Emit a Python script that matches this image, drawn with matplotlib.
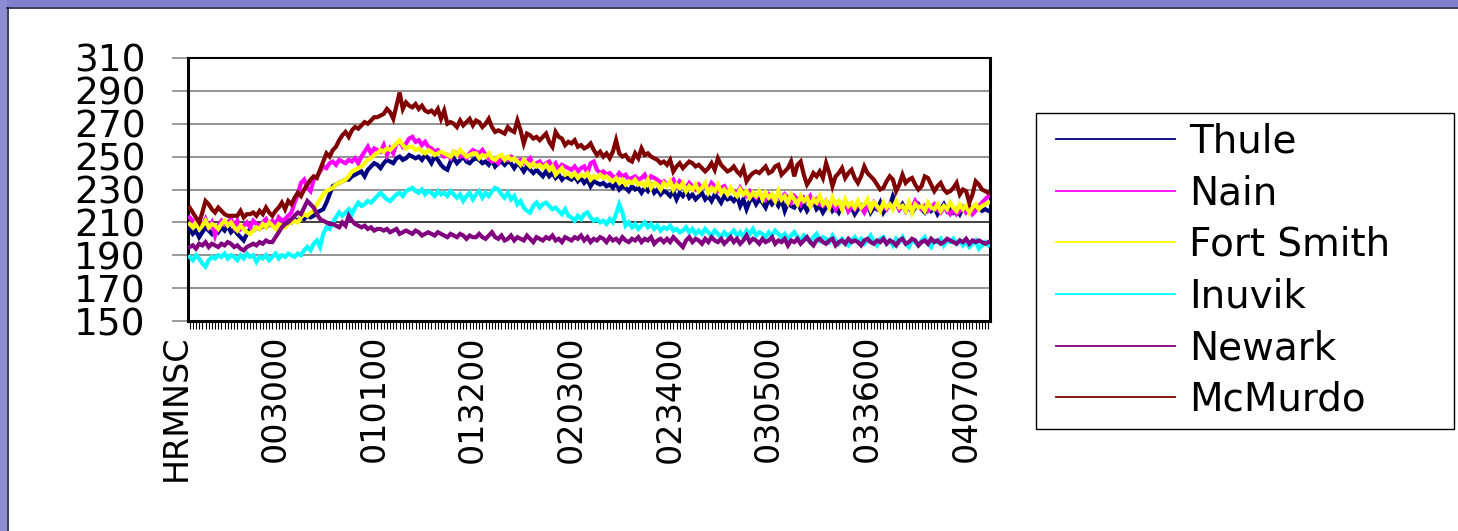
import matplotlib
matplotlib.use("Agg")
import matplotlib.pyplot as plt
import matplotlib.transforms as mtransforms
from matplotlib.lines import Line2D
from matplotlib.patches import Rectangle
from matplotlib.legend_handler import HandlerLine2D
import numpy as np

plt.rcParams['font.family'] = ['DejaVu Sans']

# ---------------- data ----------------
series_names = ["Thule", "Nain", "Fort Smith", "Inuvik", "Newark", "McMurdo"]
series_colors = ["#000080", "#FF00FF", "#FFFF00", "#00FFFF", "#800080", "#800000"]

tick_labels = ["HRMNSC", "003000", "010100", "013200", "020300",
               "023400", "030500", "033600", "040700"]
tick_step = 31

thule = [
    206, 203, 205, 201, 204, 207, 205, 203, 206, 204,
    207, 205, 208, 204, 206, 203, 201, 199, 203, 206,
    205, 207, 206, 208, 207, 209, 208, 210, 209, 210,
    209, 211, 210, 212, 211, 213, 212, 214, 213, 214,
    216, 217, 218, 222, 227, 232, 233, 234, 235, 236,
    236, 238, 239, 240, 241, 238, 242, 244, 246, 245,
    243, 246, 248, 247, 246, 249, 250, 248, 249, 251,
    250, 249, 250, 248, 251, 249, 246, 250, 248, 245,
    243, 242, 247, 249, 246, 248, 250, 247, 246, 248,
    249, 248, 246, 247, 245, 248, 244, 246, 247, 245,
    247, 246, 243, 246, 244, 241, 244, 242, 240, 242,
    240, 238, 241, 238, 240, 237, 239, 236, 238, 237,
    236, 238, 235, 237, 234, 236, 232, 235, 234, 233,
    234, 232, 233, 231, 234, 230, 232, 231, 229, 232,
    230, 231, 228, 231, 229, 232, 228, 230, 227, 229,
    228, 226, 229, 224, 228, 226, 229, 225, 227, 224,
    226, 228, 224, 226, 223, 227, 225, 222, 226, 224,
    225, 223, 226, 220, 224, 218, 223, 225, 221, 224,
    222, 219, 224, 221, 223, 220, 224, 217, 222, 220,
    219, 222, 218, 221, 217, 220, 223, 218, 220, 216,
    219, 221, 217, 219, 216, 220, 222, 217, 219, 215,
    218, 220, 217, 221, 216, 219, 218, 222, 216, 219,
    220, 226, 222, 218, 221, 217, 220, 216, 219, 221,
    218, 216, 220, 217, 219, 215, 218, 221, 217, 219,
    216, 218, 215, 219, 217, 220, 216, 218, 219, 217,
    218, 217,
]

nain = [
    213, 211, 209, 210, 208, 212, 207, 210, 202, 208,
    211, 209, 210, 212, 207, 211, 206, 208, 210, 207,
    211, 209, 208, 210, 212, 209, 211, 208, 213, 211,
    212, 214, 216, 222, 227, 234, 236, 231, 229, 236,
    238, 241, 244, 243, 246, 247, 245, 248, 247, 246,
    248, 247, 249, 246, 250, 253, 256, 252, 255, 254,
    253, 257, 251, 255, 252, 258, 259, 256, 258, 261,
    262, 259, 260, 257, 259, 256, 255, 253, 254, 252,
    250, 251, 249, 253, 252, 250, 251, 249, 252, 254,
    253, 252, 254, 251, 249, 247, 248, 246, 250, 249,
    248, 250, 249, 247, 248, 246, 247, 249, 245, 246,
    247, 244, 246, 247, 244, 246, 242, 245, 244, 243,
    242, 244, 241, 243, 244, 240, 246, 247, 242, 240,
    241, 239, 240, 238, 237, 240, 238, 239, 236, 237,
    238, 236, 237, 239, 235, 238, 237, 236, 234, 235,
    233, 234, 236, 232, 235, 233, 231, 234, 232, 230,
    233, 231, 232, 230, 234, 232, 229, 231, 232, 228,
    230, 229, 227, 231, 228, 226, 229, 227, 225, 228,
    226, 224, 227, 225, 223, 226, 224, 227, 225, 222,
    226, 224, 221, 225, 223, 226, 222, 224, 221, 220,
    223, 220, 222, 218, 221, 219, 223, 217, 220, 218,
    221, 219, 216, 220, 218, 222, 219, 217, 220, 218,
    221, 219, 222, 218, 220, 217, 221, 219, 223, 220,
    218, 220, 217, 219, 221, 218, 216, 219, 217, 215,
    218, 215, 217, 219, 216, 218, 215, 217, 220, 222,
    224, 226,
]

fort_smith = [
    209, 207, 210, 206, 208, 211, 207, 209, 208, 206,
    209, 211, 208, 210, 207, 205, 208, 206, 204, 203,
    205, 207, 206, 209, 207, 210, 208, 206, 209, 208,
    207, 209, 210, 211, 210, 213, 215, 214, 216, 217,
    221, 224, 227, 229, 230, 231, 233, 234, 235, 236,
    238, 241, 242, 243, 244, 246, 248, 249, 251, 252,
    254, 253, 255, 254, 256, 258, 260, 257, 255, 256,
    256, 254, 255, 253, 252, 254, 253, 251, 252, 253,
    252, 251, 250, 253, 251, 254, 252, 250, 251, 252,
    252, 249, 251, 250, 252, 249, 248, 250, 251, 248,
    250, 248, 249, 247, 245, 248, 246, 244, 246, 244,
    245, 243, 245, 242, 244, 239, 241, 243, 239, 240,
    238, 240, 237, 239, 238, 240, 236, 238, 237, 239,
    237, 238, 236, 235, 237, 234, 236, 233, 235, 234,
    236, 233, 234, 232, 236, 231, 234, 233, 230, 234,
    232, 235, 230, 233, 231, 234, 229, 232, 230, 233,
    229, 231, 234, 228, 231, 229, 233, 228, 230, 227,
    231, 228, 226, 230, 227, 229, 225, 228, 226, 229,
    224, 228, 225, 227, 223, 229, 224, 226, 222, 227,
    224, 221, 226, 223, 225, 220, 224, 222, 226, 221,
    223, 219, 225, 221, 223, 218, 224, 220, 222, 219,
    223, 219, 221, 224, 218, 222, 220, 217, 222, 219,
    221, 218, 223, 219, 220, 217, 222, 216, 221, 219,
    220, 217, 222, 219, 218, 221, 217, 220, 218, 222,
    219, 217, 221, 218, 220, 216, 219, 221, 218, 220,
    221, 222,
]

inuvik = [
    189, 187, 190, 188, 185, 183, 187, 189, 188, 190,
    189, 191, 188, 190, 189, 187, 190, 188, 191, 189,
    190, 186, 189, 188, 190, 187, 189, 191, 188, 190,
    189, 191, 190, 189, 191, 190, 193, 195, 193, 197,
    199, 195, 203, 207, 206, 210, 213, 216, 214, 216,
    218, 215, 219, 222, 220, 221, 223, 222, 224, 226,
    228, 226, 224, 223, 225, 227, 228, 226, 229, 230,
    231, 229, 228, 230, 227, 229, 228, 226, 229, 227,
    228, 226, 229, 227, 225, 227, 223, 226, 228, 224,
    227, 229, 225, 228, 226, 229, 231, 230, 227, 225,
    228, 224, 226, 221, 223, 219, 217, 216, 220, 222,
    219, 221, 222, 220, 218, 219, 217, 215, 218, 214,
    213, 211, 214, 212, 215, 216, 213, 211, 212, 210,
    211, 209, 212, 210, 215, 221, 216, 208, 210, 207,
    209, 206, 208, 210, 207, 209, 206, 208, 205, 207,
    206, 208, 205, 206, 204, 205, 207, 204, 206, 203,
    205, 203, 206, 204, 202, 205, 203, 201, 204, 202,
    203, 205, 202, 204, 201, 205, 203, 206, 202, 204,
    203, 201, 204, 202, 205, 203, 201, 203, 200, 202,
    204, 201, 199, 202, 200, 198, 201, 203, 199, 201,
    200, 198, 202, 199, 197, 200, 198, 196, 199, 201,
    198, 200, 197, 199, 202, 198, 196, 200, 201, 197,
    199, 196, 200, 198, 201, 197, 195, 199, 198, 196,
    199, 201, 197, 195, 199, 198, 200, 196, 199, 198,
    200, 197, 199, 196, 198, 195, 197, 199, 194, 196,
    198, 196,
]

newark = [
    195, 196, 194, 197, 196, 198, 195, 197, 196, 195,
    197, 196, 198, 197, 195, 196, 194, 193, 195, 196,
    197, 196, 198, 197, 199, 198, 198, 201, 204, 207,
    209, 210, 212, 214, 216, 215, 219, 223, 221, 219,
    215, 212, 211, 210, 209, 209, 208, 207, 210, 208,
    214, 211, 209, 208, 207, 208, 206, 207, 205, 206,
    206, 205, 206, 204, 205, 206, 203, 204, 205, 204,
    203, 205, 204, 202, 203, 204, 203, 202, 204, 203,
    202, 201, 203, 202, 201, 203, 202, 200, 202, 201,
    201, 203, 201, 200, 202, 204, 201, 200, 202, 199,
    200, 202, 199, 201, 200, 199, 202, 200, 198, 201,
    200, 199, 201, 200, 202, 199, 200, 198, 201, 200,
    199, 201, 200, 202, 199, 201, 198, 200, 199, 201,
    200, 198, 201, 199, 200, 198, 201, 199, 198, 200,
    199, 201, 198, 200, 199, 201, 197, 199, 200, 198,
    200, 198, 201, 199, 197, 195, 199, 201, 198, 200,
    199, 197, 200, 198, 201, 199, 198, 200, 197, 199,
    201, 198, 200, 197, 199, 202, 198, 200, 199, 197,
    200, 198, 199, 201, 197, 199, 198, 200, 196, 199,
    198, 200, 197, 199, 201, 198, 196, 199, 200, 198,
    197, 199, 200, 196, 198, 199, 197, 200, 198, 199,
    198, 196, 199, 200, 198, 197, 199, 198, 200, 197,
    199, 198, 196, 199, 200, 197, 198, 200, 199, 196,
    198, 199, 197, 200, 198, 199, 197, 198, 200, 199,
    198, 197, 199, 198, 200, 197, 199, 198, 199, 198,
    197, 198,
]

mcmurdo = [
    219, 216, 213, 210, 216, 223, 221, 218, 216, 219,
    217, 215, 214, 214, 214, 214, 217, 213, 215, 215,
    216, 214, 217, 215, 219, 216, 214, 217, 219, 222,
    218, 223, 221, 225, 228, 226, 230, 233, 236, 238,
    237, 242, 247, 252, 250, 254, 256, 260, 263, 265,
    262, 266, 268, 267, 269, 271, 270, 272, 274, 274,
    275, 276, 279, 277, 273, 281, 289, 279, 283, 281,
    280, 282, 279, 281, 278, 277, 278, 276, 279, 273,
    278, 270, 271, 270, 268, 272, 269, 271, 273, 269,
    272, 271, 268, 270, 273, 268, 265, 266, 265, 264,
    268, 266, 265, 272, 266, 258, 264, 263, 261, 262,
    260, 262, 264, 259, 256, 265, 262, 261, 257, 259,
    258, 260, 256, 257, 255, 256, 258, 254, 251, 253,
    250, 252, 249, 253, 260, 252, 250, 251, 248, 247,
    252, 249, 255, 251, 252, 250, 249, 248, 246, 247,
    245, 248, 241, 244, 246, 243, 245, 247, 246, 244,
    245, 243, 241, 243, 246, 242, 249, 245, 243, 241,
    242, 244, 241, 239, 243, 235, 238, 240, 241, 240,
    242, 244, 240, 241, 244, 245, 239, 241, 243, 247,
    238, 245, 247, 239, 233, 236, 240, 238, 241, 237,
    246, 240, 232, 238, 240, 243, 237, 240, 242, 237,
    234, 238, 244, 240, 238, 236, 233, 230, 231, 235,
    238, 236, 229, 233, 239, 234, 236, 237, 233, 230,
    232, 238, 237, 233, 229, 232, 234, 230, 228, 229,
    231, 234, 227, 230, 229, 222, 227, 235, 233, 230,
    229, 228,
]

all_series = [thule, nain, fort_smith, inuvik, newark, mcmurdo]

# ---------------- figure ----------------
W, H = 1458, 531
fig = plt.figure(figsize=(W / 100, H / 100), dpi=100)
fig.patch.set_facecolor("white")

# slide frame (top & left strips)
fig.add_artist(Rectangle((0, 1 - 7 / H), 1, 7 / H, transform=fig.transFigure,
                         facecolor="#8080cc", edgecolor="none", zorder=0))
fig.add_artist(Rectangle((0, 0), 7 / W, 1, transform=fig.transFigure,
                         facecolor="#8c8cd2", edgecolor="none", zorder=0))
fig.add_artist(Line2D([7 / W, 1], [1 - 7.5 / H, 1 - 7.5 / H], transform=fig.transFigure,
                      color="#1a1a40", lw=1.2))
fig.add_artist(Line2D([7.5 / W, 7.5 / W], [0, 1 - 7.5 / H], transform=fig.transFigure,
                      color="#1a1a40", lw=1.2))

ax = fig.add_axes([188 / W, (H - 321) / H, (990 - 188) / W, (321 - 58) / H])
ax.set_facecolor("white")

n = len(thule)
x = np.arange(n)
for vals, name, col in zip(all_series, series_names, series_colors):
    ax.plot(x, vals, color=col, lw=3.0, label=name, solid_joinstyle="miter", zorder=3)

ax.set_xlim(-0.5, n - 0.5)
ax.set_ylim(150, 310)
ax.set_yticks(np.arange(150, 311, 20))
ax.yaxis.grid(True, color="#808080", lw=1.2, zorder=1)
for val, gl in zip(ax.get_yticks(), ax.get_ygridlines()):
    if val == 210:
        gl.set_color("#202020")
ax.set_axisbelow(True)

ax.tick_params(axis="y", direction="out", length=11.5, width=1.1, color="#808080",
               pad=19, labelsize=27)

# x ticks: one per category, labels every tick_step
ax.set_xticks(np.arange(len(tick_labels)) * tick_step)
ax.set_xticklabels(tick_labels, rotation=90, fontsize=24, va="top", ha="center")
ax.set_xticks(x, minor=True)
ax.tick_params(axis="x", which="both", direction="out", length=6, width=0.8,
               color="black", pad=4)
offset = mtransforms.ScaledTranslation(-13 / 100, 0, fig.dpi_scale_trans)
for lab in ax.get_xticklabels():
    lab.set_transform(lab.get_transform() + offset)

for side in ["left", "right", "bottom"]:
    ax.spines[side].set_linewidth(2.2)
    ax.spines[side].set_color("black")
ax.spines["top"].set_linewidth(1.5)
ax.spines["top"].set_color("black")

# legend
handles = [Line2D([], [], color=c, lw=1.3) for c in series_colors]
leg = fig.legend(handles, series_names, loc="upper left",
                 bbox_to_anchor=(1036 / W, (H - 425) / H, 418 / W, 312 / H),
                 mode="expand", fontsize=28, frameon=True, fancybox=False,
                 framealpha=1, edgecolor="black", borderaxespad=0,
                 borderpad=0.25, handlelength=3.32, handletextpad=0.36,
                 labelspacing=0.35,
                 handler_map={Line2D: HandlerLine2D(xpad=0.26)})
leg.get_frame().set_linewidth(1.0)

fig.savefig("out.png", dpi=100, facecolor=fig.get_facecolor())
